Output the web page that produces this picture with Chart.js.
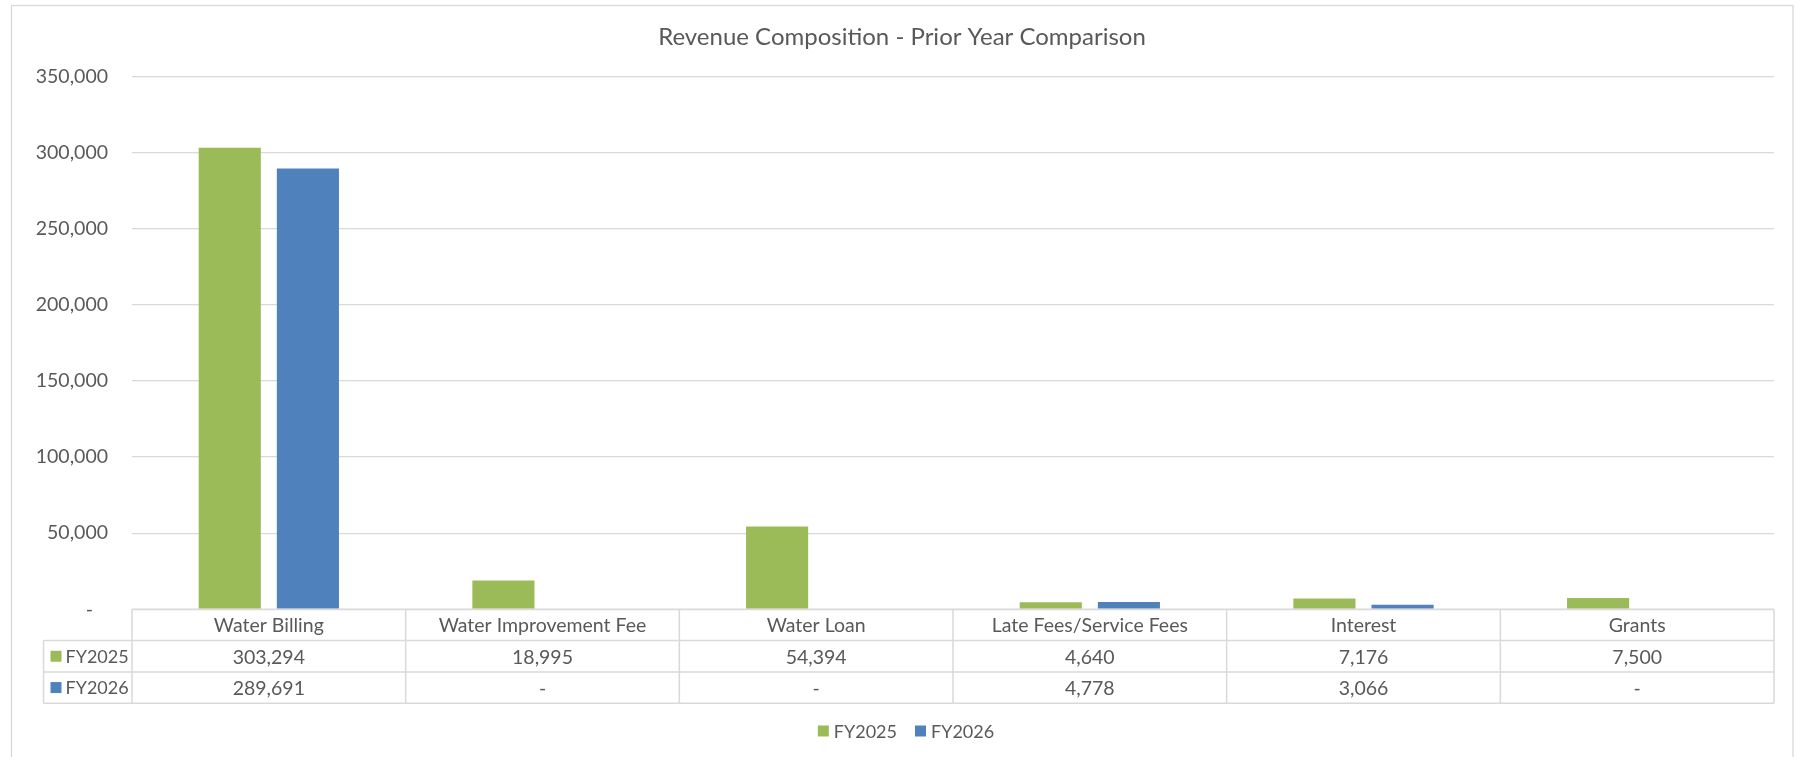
<!DOCTYPE html>
<html>
<head>
<meta charset="utf-8">
<script src="https://cdn.jsdelivr.net/npm/chart.js@4.4.1/dist/chart.umd.min.js"></script>
<style>
  html, body { margin: 0; padding: 0; background: #ffffff; }
  #wrap { width: 1797px; height: 757px; position: relative; }
</style>
</head>
<body>
<div id="wrap"><canvas id="revenueChart"></canvas></div>
<script>
// chart data
const categories = ["Water Billing", "Water Improvement Fee", "Water Loan", "Late Fees/Service Fees", "Interest", "Grants"];
const fy2025 = [303294, 18995, 54394, 4640, 7176, 7500];
const fy2026 = [289691, 0, 0, 4778, 3066, 0];
const seriesNames = ["FY2025", "FY2026"];
const seriesColors = ["#9BBB59", "#4F81BD"];
const yMax = 350000;
const yStep = 50000;
const chartTitle = "Revenue Composition - Prior Year Comparison";

const textColor = "#595959";
const lineColor = "#d9d9d9";
const fontFamily = "Lato, 'Open Sans', sans-serif";
const bodySize = 19.5;
const keySize = 18; // series names are wide in Lato, keep them inside their cell

// number format like Excel accounting: zero shows as dash
function fmt(v) {
  return v === 0 ? "-" : v.toLocaleString("en-US");
}

// frame, title, data table and legend drawn under/after the plot
const tablePlugin = {
  id: "dataTable",
  beforeDraw(chart) {
    const ctx = chart.ctx;
    ctx.save();
    ctx.strokeStyle = lineColor;
    ctx.lineWidth = 1.3;
    ctx.strokeRect(11.5, 5.5, 1781.5, 800);
    ctx.restore();
  },
  afterDraw(chart) {
    const ctx = chart.ctx;
    const a = chart.chartArea;
    const xs = chart.scales.x;
    const n = categories.length;
    const colW = (a.right - a.left) / n;
    const top = a.bottom;
    const rowH = 31.3;
    const rowLeft = 43.5;
    const series = [fy2025, fy2026];

    ctx.save();
    // grid of the table
    ctx.strokeStyle = lineColor;
    ctx.lineWidth = 1.5;
    ctx.beginPath();
    ctx.moveTo(a.left, top);
    ctx.lineTo(a.right, top);
    for (let r = 1; r <= 3; r++) {
      ctx.moveTo(rowLeft, top + r * rowH);
      ctx.lineTo(a.right, top + r * rowH);
    }
    for (let i = 0; i <= n; i++) {
      const x = a.left + i * colW;
      ctx.moveTo(x, top);
      ctx.lineTo(x, top + 3 * rowH);
    }
    ctx.moveTo(rowLeft, top + rowH);
    ctx.lineTo(rowLeft, top + 3 * rowH);
    ctx.stroke();

    // table text
    ctx.fillStyle = textColor;
    ctx.font = bodySize + "px " + fontFamily;
    ctx.textAlign = "center";
    ctx.textBaseline = "middle";
    categories.forEach((c, i) => {
      const cx = xs.getPixelForValue(i);
      ctx.fillText(c, cx, top + rowH / 2 + 1);
      series.forEach((s, r) => {
        ctx.fillText(fmt(s[i]), cx, top + rowH * (r + 1.5) + 1);
      });
    });

    // row headers with colour keys
    ctx.font = keySize + "px " + fontFamily;
    ctx.textAlign = "left";
    seriesNames.forEach((name, r) => {
      const cy = top + rowH * (r + 1.5);
      ctx.fillStyle = seriesColors[r];
      ctx.fillRect(rowLeft + 7, cy - 5.5, 11, 11);
      ctx.fillStyle = textColor;
      ctx.fillText(name, rowLeft + 22, cy + 1);
    });

    // title
    ctx.font = "24px " + fontFamily;
    ctx.textAlign = "center";
    ctx.fillText(chartTitle, 902, 37);

    // legend
    ctx.font = keySize + "px " + fontFamily;
    ctx.textAlign = "left";
    const sq = 11, gap = 5, spacing = 18;
    const widths = seriesNames.map(s => ctx.measureText(s).width);
    const total = widths.reduce((t, w) => t + sq + gap + w, 0) + spacing;
    let lx = 906 - total / 2;
    const ly = 731;
    seriesNames.forEach((name, r) => {
      ctx.fillStyle = seriesColors[r];
      ctx.fillRect(lx, ly - 5.5, sq, sq);
      ctx.fillStyle = textColor;
      ctx.fillText(name, lx + sq + gap, ly + 1);
      lx += sq + gap + widths[r] + spacing;
    });
    ctx.restore();
  }
};

const ctx = document.getElementById("revenueChart");
new Chart(ctx, {
  type: "bar",
  data: {
    labels: categories,
    datasets: seriesNames.map((name, i) => ({
      label: name,
      data: i === 0 ? fy2025 : fy2026,
      backgroundColor: seriesColors[i],
      borderWidth: 0,
      categoryPercentage: 0.571,
      barPercentage: 0.795,
    })),
  },
  options: {
    responsive: true,
    maintainAspectRatio: false,
    animation: false,
    layout: {
      padding: { top: 76.6, bottom: 147.7, left: 0, right: 23 },
    },
    scales: {
      x: {
        display: false,
      },
      y: {
        min: 0,
        max: yMax,
        afterFit(scale) {
          scale.width = 132;
        },
        ticks: {
          stepSize: yStep,
          padding: 24,
          color: textColor,
          font: { family: fontFamily, size: bodySize },
          callback: (v) => (v === 0 ? "-   " : v.toLocaleString("en-US")),
        },
        grid: {
          color: lineColor,
          lineWidth: 1.3,
          drawTicks: false,
        },
        border: { display: false },
      },
    },
    plugins: {
      legend: { display: false },
      title: { display: false },
      tooltip: { enabled: false },
    },
  },
  plugins: [tablePlugin],
});
</script>
</body>
</html>
